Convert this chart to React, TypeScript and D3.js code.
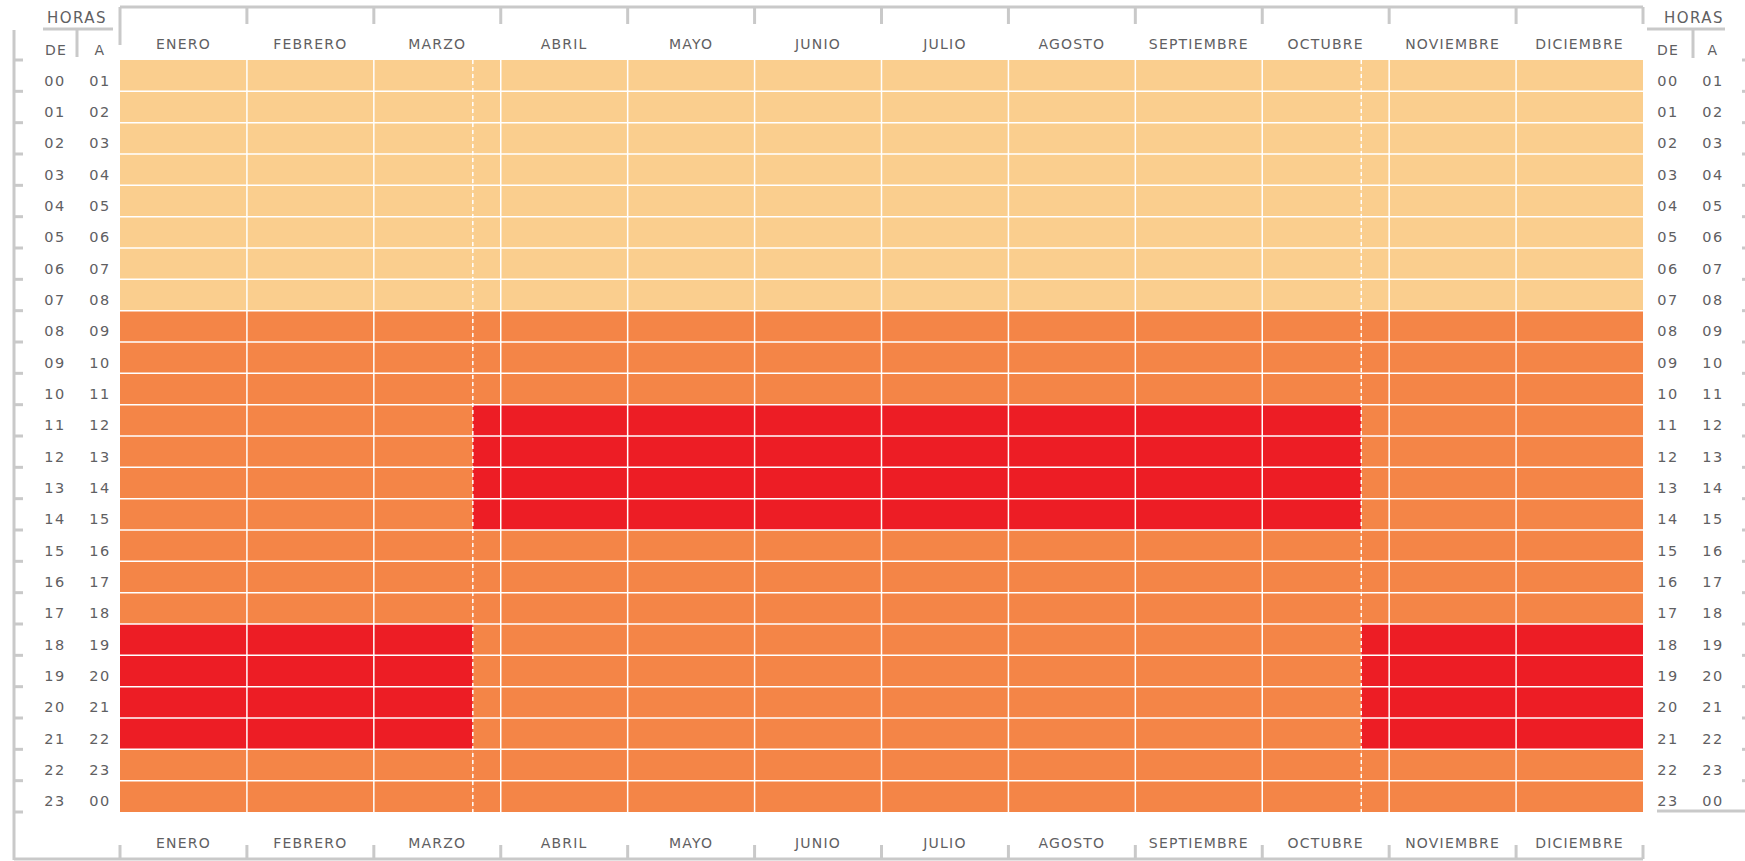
import React, { useEffect } from "react";
import * as d3 from "d3";

// Etiquetas
const months = ["ENERO", "FEBRERO", "MARZO", "ABRIL", "MAYO", "JUNIO", "JULIO", "AGOSTO", "SEPTIEMBRE", "OCTUBRE", "NOVIEMBRE", "DICIEMBRE"];
const horasDe = ["00", "01", "02", "03", "04", "05", "06", "07", "08", "09", "10", "11", "12", "13", "14", "15", "16", "17", "18", "19", "20", "21", "22", "23"];
const horasA = ["01", "02", "03", "04", "05", "06", "07", "08", "09", "10", "11", "12", "13", "14", "15", "16", "17", "18", "19", "20", "21", "22", "23", "00"];

// Tramos horarios (índice de hora "DE")
const horasValle = [0, 1, 2, 3, 4, 5, 6, 7];
const puntaInvierno = [18, 19, 20, 21];
const puntaVerano = [11, 12, 13, 14];

// Cambio de horario, en meses desde el 1 de enero (último domingo de marzo / octubre)
const cambioHorario = [2.78, 9.78];

const colors = {
  valle: "#FACE8E",
  llano: "#F48547",
  punta: "#ED1D25",
};

const W = 1745;
const H = 861;
const grey = "#C9C9C9";
const textColor = "#5F6062";
const font = "'DejaVu Sans', sans-serif";

export default function App() {
  useEffect(() => {
    document.body.style.margin = "0";
    document.body.style.overflow = "hidden";
  }, []);

  const x = d3.scaleLinear().domain([0, 12]).range([120, 1643]);
  const y = d3.scaleBand<number>().domain(d3.range(24)).range([60, 812]).padding(0);
  const rowH = y.bandwidth();

  const temporadas = [
    { desde: 0, hasta: cambioHorario[0], punta: puntaInvierno },
    { desde: cambioHorario[0], hasta: cambioHorario[1], punta: puntaVerano },
    { desde: cambioHorario[1], hasta: 12, punta: puntaInvierno },
  ];

  const colorFor = (h: number, punta: number[]) =>
    horasValle.includes(h) ? colors.valle : punta.includes(h) ? colors.punta : colors.llano;

  const monthBounds = d3.range(13);
  const rowBounds = d3.range(25).map((i) => 60 + i * rowH);

  const labelStyle = { fontFamily: font, fontSize: 14, fill: textColor, letterSpacing: 1.2 } as const;
  const numStyle = { fontFamily: font, fontSize: 14.5, fill: textColor, letterSpacing: 1.5 } as const;

  return (
    <svg width={W} height={H} style={{ position: "absolute", left: 0, top: 0, background: "#fff" }}>
      {/* celdas */}
      {temporadas.map((t, ti) =>
        horasDe.map((_, h) => (
          <rect
            key={`c-${ti}-${h}`}
            x={x(t.desde)}
            y={y(h)!}
            width={x(t.hasta) - x(t.desde)}
            height={rowH}
            fill={colorFor(h, t.punta)}
          />
        ))
      )}

      {/* rejilla blanca */}
      {rowBounds.slice(1, 24).map((yy, i) => (
        <line key={`rh-${i}`} x1={x(0)} x2={x(12)} y1={yy} y2={yy} stroke="#fff" strokeWidth={1.5} />
      ))}
      {monthBounds.slice(1, 12).map((m) => (
        <line key={`mv-${m}`} x1={x(m)} x2={x(m)} y1={60} y2={812} stroke="#fff" strokeWidth={1.5} />
      ))}
      {cambioHorario.map((c, i) => (
        <line key={`dst-${i}`} x1={x(c)} x2={x(c)} y1={60} y2={812} stroke="#fff" strokeWidth={1.5} strokeDasharray="4,3" />
      ))}

      {/* corchete superior */}
      <line x1={x(0)} x2={x(12)} y1={7} y2={7} stroke={grey} strokeWidth={3} />
      {monthBounds.map((m) => (
        <line key={`tt-${m}`} x1={x(m)} x2={x(m)} y1={7} y2={m === 0 ? 45 : 24} stroke={grey} strokeWidth={3} />
      ))}
      {months.map((m, i) => (
        <text key={`tm-${m}`} x={x(i + 0.5)} y={44.5} textAnchor="middle" dominantBaseline="middle" {...labelStyle}>
          {m}
        </text>
      ))}

      {/* corchete inferior */}
      <line x1={14} x2={x(12)} y1={859} y2={859} stroke={grey} strokeWidth={3} />
      {monthBounds.map((m) => (
        <line key={`bt-${m}`} x1={x(m)} x2={x(m)} y1={845} y2={859} stroke={grey} strokeWidth={3} />
      ))}
      {months.map((m, i) => (
        <text key={`bm-${m}`} x={x(i + 0.5)} y={843.5} textAnchor="middle" dominantBaseline="middle" {...labelStyle}>
          {m}
        </text>
      ))}

      {/* eje izquierdo */}
      <line x1={14} x2={14} y1={30} y2={860} stroke={grey} strokeWidth={3} />
      {rowBounds.map((yy, i) => (
        <line key={`lt-${i}`} x1={14} x2={23} y1={yy} y2={yy} stroke={grey} strokeWidth={3} />
      ))}
      <text x={77} y={18.5} textAnchor="middle" dominantBaseline="middle" fontFamily={font} fontSize={15} fill={textColor} letterSpacing={1.5}>
        HORAS
      </text>
      <line x1={43} x2={113} y1={29} y2={29} stroke={grey} strokeWidth={3} />
      <line x1={77} x2={77} y1={29} y2={57} stroke={grey} strokeWidth={3} />
      <text x={56} y={50.5} textAnchor="middle" dominantBaseline="middle" {...labelStyle}>DE</text>
      <text x={100} y={50.5} textAnchor="middle" dominantBaseline="middle" {...labelStyle}>A</text>
      {horasDe.map((h, i) => (
        <text key={`ld-${i}`} x={55} y={y(i)! + rowH / 2 + 6} textAnchor="middle" dominantBaseline="middle" {...numStyle}>
          {h}
        </text>
      ))}
      {horasA.map((h, i) => (
        <text key={`la-${i}`} x={100} y={y(i)! + rowH / 2 + 6} textAnchor="middle" dominantBaseline="middle" {...numStyle}>
          {h}
        </text>
      ))}

      {/* eje derecho */}
      <text x={1694} y={18.5} textAnchor="middle" dominantBaseline="middle" fontFamily={font} fontSize={15} fill={textColor} letterSpacing={1.5}>
        HORAS
      </text>
      <line x1={1647} x2={1725} y1={29} y2={29} stroke={grey} strokeWidth={3} />
      <line x1={1693} x2={1693} y1={29} y2={58} stroke={grey} strokeWidth={3} />
      <text x={1668} y={50.5} textAnchor="middle" dominantBaseline="middle" {...labelStyle}>DE</text>
      <text x={1713} y={50.5} textAnchor="middle" dominantBaseline="middle" {...labelStyle}>A</text>
      {horasDe.map((h, i) => (
        <text key={`rd-${i}`} x={1668} y={y(i)! + rowH / 2 + 6} textAnchor="middle" dominantBaseline="middle" {...numStyle}>
          {h}
        </text>
      ))}
      {horasA.map((h, i) => (
        <text key={`ra-${i}`} x={1713} y={y(i)! + rowH / 2 + 6} textAnchor="middle" dominantBaseline="middle" {...numStyle}>
          {h}
        </text>
      ))}
      {rowBounds.slice(0, 24).map((yy, i) => (
        <line key={`rt-${i}`} x1={1742} x2={1750} y1={yy} y2={yy} stroke={grey} strokeWidth={3} />
      ))}
      <line x1={1657} x2={1750} y1={811} y2={811} stroke={grey} strokeWidth={3} />
    </svg>
  );
}
